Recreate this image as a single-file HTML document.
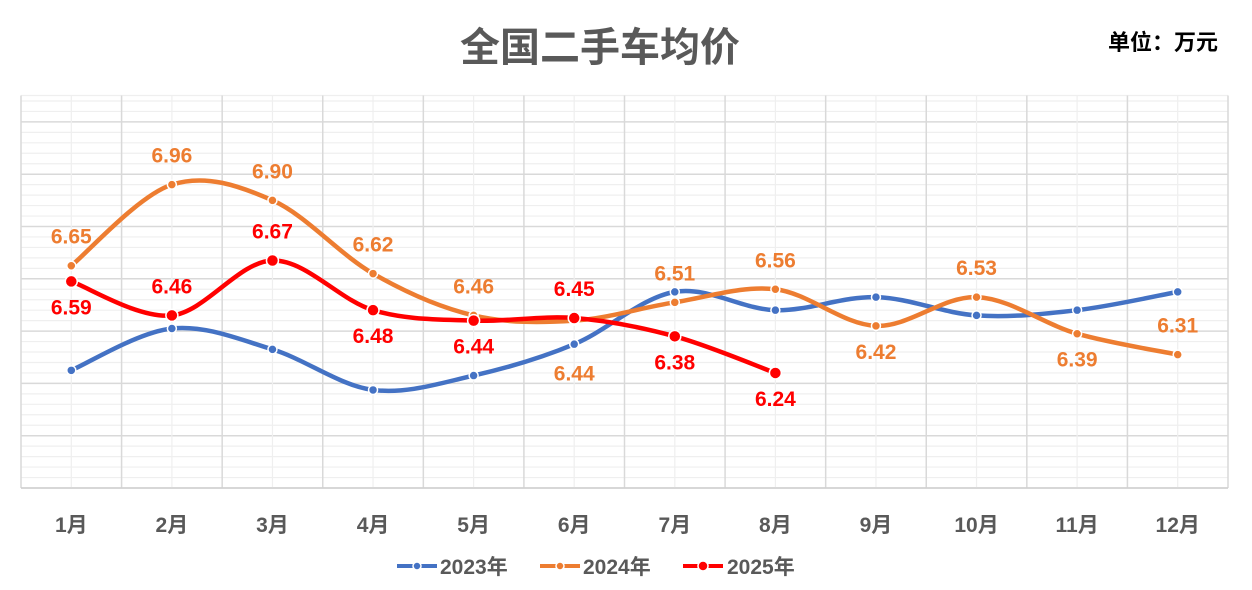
<!DOCTYPE html>
<html><head><meta charset="utf-8"><style>
body{margin:0;background:#fff;}
svg{display:block;font-family:"Liberation Sans","Noto Sans CJK SC",sans-serif;}
</style></head><body>
<svg id="s" width="1252" height="590" xmlns="http://www.w3.org/2000/svg">
<text x="600" y="61" text-anchor="middle" font-size="40" font-weight="bold" fill="#595959">全国二手车均价</text>
<text x="1163" y="50" text-anchor="middle" font-size="22" font-weight="bold" fill="#000">单位：万元</text>
<g id="grid"></g><g id="ser"></g><g id="lab"></g>
<g font-size="21" font-weight="bold" fill="#595959">
<line x1="397" y1="566" x2="437" y2="566" stroke="#4472C4" stroke-width="4"/><circle cx="417" cy="566" r="4" fill="#4472C4" stroke="#fff" stroke-width="1.5"/>
<text x="440" y="574">2023年</text>
<line x1="540" y1="566" x2="580" y2="566" stroke="#ED7D31" stroke-width="4"/><circle cx="560" cy="566" r="4" fill="#ED7D31" stroke="#fff" stroke-width="1.5"/>
<text x="583" y="574">2024年</text>
<line x1="683" y1="566" x2="723" y2="566" stroke="#FF0000" stroke-width="4"/><circle cx="703" cy="566" r="5" fill="#FF0000" stroke="#fff" stroke-width="1.5"/>
<text x="727" y="574">2025年</text>
</g>
</svg>
<script>
var NS="http://www.w3.org/2000/svg";
function el(p,t,a,txt){var e=document.createElementNS(NS,t);for(var k in a)e.setAttribute(k,a[k]);if(txt)e.textContent=txt;p.appendChild(e);return e;}
var L=21,R=1228,T=95.5,B=488,cw=(R-L)/12;
function X(i){return L+cw*(i+0.5);}
function Y(v){return B-(v-5.8)*261.5;}
var g=document.getElementById('grid');
for(var k=0;k<=37;k++){var y=B-k*10.46;if(y<T-1)break;var maj=k%5==0;
el(g,'line',{x1:L,x2:R,y1:y,y2:y,stroke:maj?'#d9d9d9':'#efefef','stroke-width':maj?1.5:1.2});}
el(g,'line',{x1:L,x2:R,y1:T,y2:T,stroke:'#efefef','stroke-width':1.2});
for(var i=0;i<12;i++){el(g,'line',{x1:X(i),x2:X(i),y1:T,y2:B,stroke:'#efefef','stroke-width':1.2});}
for(var i=0;i<=12;i++){var x=L+cw*i;el(g,'line',{x1:x,x2:x,y1:T,y2:B,stroke:'#d9d9d9','stroke-width':1.5});}
el(g,'line',{x1:L,x2:R,y1:B,y2:B,stroke:'#d0d0d0','stroke-width':1.5});
for(var i=0;i<12;i++)el(g,'text',{x:X(i),y:532,'text-anchor':'middle','font-size':21,'font-weight':'bold',fill:'#595959'},(i+1)+'月');
var d23=[6.25,6.41,6.33,6.175,6.23,6.35,6.55,6.48,6.53,6.46,6.48,6.55];
var d24=[6.65,6.96,6.90,6.62,6.46,6.44,6.51,6.56,6.42,6.53,6.39,6.31];
var d25=[6.59,6.46,6.67,6.48,6.44,6.45,6.38,6.24];
var s=document.getElementById('ser'),lb=document.getElementById('lab');
function path(d,c,r){var p=d.map(function(v,i){return [X(i),Y(v)];});
var str='M'+p[0][0]+','+p[0][1];
for(var i=0;i<p.length-1;i++){var p0=p[Math.max(0,i-1)],p1=p[i],p2=p[i+1],p3=p[Math.min(p.length-1,i+2)];
var c1=[p1[0]+(p2[0]-p0[0])/6,p1[1]+(p2[1]-p0[1])/6],c2=[p2[0]-(p3[0]-p1[0])/6,p2[1]-(p3[1]-p1[1])/6];
str+=' C'+c1+' '+c2+' '+p2;}
el(s,'path',{d:str,fill:'none',stroke:c,'stroke-width':4.5,'stroke-linecap':'round'});
p.forEach(function(q){el(s,'circle',{cx:q[0],cy:q[1],r:r,fill:c,stroke:'#fff','stroke-width':1.5});});}
path(d23,'#4472C4',4.5);path(d24,'#ED7D31',4.5);path(d25,'#FF0000',6);
function labs(d,c,pos){d.forEach(function(v,i){var y=Y(v)+pos[i];
el(lb,'text',{x:X(i),y:y,'text-anchor':'middle','font-size':21,'font-weight':'bold',fill:c},v.toFixed(2));});}
var A=-22,Bl=33;
labs(d24,'#ED7D31',[A,A,A,A,A,60,A,A,Bl,A,Bl,A]);
labs(d25,'#FF0000',[Bl,A,A,Bl,Bl,A,Bl,Bl]);
</script>
</body></html>
